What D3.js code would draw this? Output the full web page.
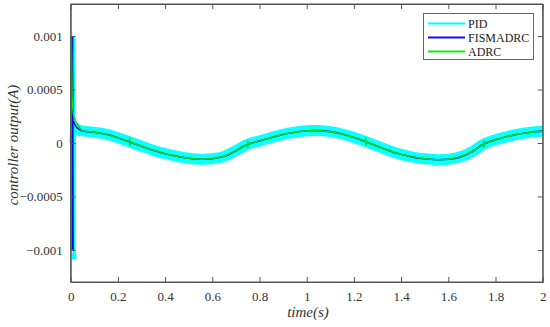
<!DOCTYPE html>
<html><head><meta charset="utf-8">
<script src="https://cdn.jsdelivr.net/npm/d3@7"></script>
<style>body{margin:0;background:#fff}svg{display:block}
svg text{font-family:"Liberation Serif","Times New Roman",Tinos,"DejaVu Serif",serif !important;}
</style>
</head><body>
<svg id="c" width="550" height="327"></svg>
<script>
// tick values/labels
const xTicks = [0,0.2,0.4,0.6,0.8,1,1.2,1.4,1.6,1.8,2];
const xTickLabels = ["0","0.2","0.4","0.6","0.8","1","1.2","1.4","1.6","1.8","2"];
const yTicks = [0.001,0.0005,0,-0.0005,-0.001];
const yTickLabels = ["0.001","0.0005","0","\u22120.0005","\u22120.001"];
const seriesNames = ["PID","FISMADRC","ADRC"];

// common slow response after the start (time s, value x1e-4)
const time = [0.05,0.10,0.15,0.20,0.25,0.30,0.35,0.40,0.45,0.50,0.55,0.60,0.65,0.70,0.75,0.80,0.85,0.90,0.95,1.00,
  1.05,1.10,1.15,1.20,1.25,1.30,1.35,1.40,1.45,1.50,1.55,1.60,1.65,1.70,1.75,1.80,1.85,1.90,1.95,2.00];
const base = [1.13,1.0,0.82,0.5,0.1,-0.3,-0.68,-1.0,-1.24,-1.42,-1.51,-1.47,-1.25,-0.72,-0.12,0.2,0.52,0.8,1.0,1.14,
  1.16,1.06,0.84,0.52,0.12,-0.3,-0.72,-1.06,-1.32,-1.48,-1.56,-1.52,-1.32,-0.82,-0.1,0.3,0.6,0.84,1.0,1.13];

// start transients (time s, value x1e-4)
const pidStartT = [0,0.010,0.012,0.014,0.016,0.018];
const pidStartV = [0,10,-10.6,10,-10.5,1.4];
const pidBandStartT = [0.012,0.02,0.035];
const pidBandStartV = [1.4,1.35,1.2];
const fisStartT = [0,0.004,0.006,0.008,0.010,0.012,0.02,0.035];
const fisStartV = [0,10,-10,10,-10,2.0,1.6,1.3];
const adrcStartT = [0,0.0005,0.0015,0.0025,0.006,0.012,0.02,0.035];
const adrcStartV = [0,10,-10,10,4,2.6,2.1,1.5];
// small ADRC jumps near quarter periods
const adrcJumpT = [0.25,0.75,1.25,1.75];
const adrcJumpV = [0.4,0.35,0.4,0.35];

const W=550,H=327,m={l:70.7,r:7.3,t:4,b:45};
const svg=d3.select("#c");
const x=d3.scaleLinear().domain([0,2]).range([m.l,W-m.r]);
const y=d3.scaleLinear().domain([-0.0013,0.0013]).range([H-m.b,m.t]);
const sc=1e-4;

function mk(ts,vs){return ts.map((t,i)=>[t,vs[i]*sc]);}
const baseData = mk(time,base);
const pidBand = mk(pidBandStartT,pidBandStartV).concat(baseData);
const pidSpike = mk(pidStartT,pidStartV);
const fis = mk(fisStartT,fisStartV).concat(baseData);
let adrcBase=[];
time.forEach((t,i)=>{
  adrcBase.push([t,base[i]*sc]);
  const j=adrcJumpT.findIndex(a=>Math.abs(a-t)<1e-9);
  if(j>=0){adrcBase.push([t+0.0005,(base[i]+adrcJumpV[j])*sc]);adrcBase.push([t+0.001,(base[i]-adrcJumpV[j])*sc]);adrcBase.push([t+0.0015,base[i]*sc]);}
});
const adrc = mk(adrcStartT,adrcStartV).concat(adrcBase);

const line=d3.line().x(d=>x(d[0])).y(d=>y(d[1])).curve(d3.curveLinear);
const smooth=d3.line().x(d=>x(d[0])).y(d=>y(d[1])).curve(d3.curveCatmullRom.alpha(0.5));

const g=svg.append("g");
g.append("path").datum(pidBand).attr("d",smooth).attr("fill","none").attr("stroke","#00ffff").attr("stroke-width",11).attr("opacity",0.95);
g.append("path").datum(pidSpike).attr("d",line).attr("fill","none").attr("stroke","#00ffff").attr("stroke-width",2);
g.append("rect").attr("x",x(0.0115)-2).attr("y",y(-0.00105)-2).attr("width",5).attr("height",6).attr("fill","#00ffff");
g.append("path").datum(fis).attr("d",smooth).attr("fill","none").attr("stroke","#0a0ae8").attr("stroke-width",1.6);
g.append("path").datum(adrc).attr("d",line).attr("fill","none").attr("stroke","#10dd10").attr("stroke-width",1.5);

// axes box
const axCol="#555";
const xb=d3.axisBottom(x).tickValues(xTicks).tickFormat((d,i)=>xTickLabels[i]).tickSizeInner(-5).tickSizeOuter(0).tickPadding(10);
const xt=d3.axisTop(x).tickValues(xTicks).tickFormat("").tickSizeInner(-5).tickSizeOuter(0);
const yl=d3.axisLeft(y).tickValues(yTicks).tickFormat((d,i)=>yTickLabels[i]).tickSizeInner(-5).tickSizeOuter(0).tickPadding(8);
const yr=d3.axisRight(y).tickValues(yTicks).tickFormat("").tickSizeInner(-5).tickSizeOuter(0);
[[xb,`translate(0,${H-m.b})`],[xt,`translate(0,${m.t})`],[yl,`translate(${m.l},0)`],[yr,`translate(${W-m.r},0)`]].forEach(([a,tr])=>{
  const gg=svg.append("g").attr("transform",tr).call(a).attr("font-family",null);
  gg.selectAll("path,line").attr("stroke",axCol);
  gg.selectAll("text").attr("fill","#333").style("font-size","13px");
});
svg.append("rect").attr("x",m.l).attr("y",m.t).attr("width",W-m.l-m.r).attr("height",H-m.t-m.b).attr("fill","none").attr("stroke",axCol).attr("stroke-width",1);

svg.append("text").attr("x",308).attr("y",317).attr("text-anchor","middle").style("font-style","italic").style("font-size","15px").attr("fill","#333").text("time(s)");
svg.append("text").attr("transform","translate(18,145) rotate(-90)").attr("text-anchor","middle").style("font-style","italic").style("font-size","15px").attr("fill","#333").text("controller output(A)");

// legend
const lg=svg.append("g");
lg.append("rect").attr("x",423.5).attr("y",13.5).attr("width",110).attr("height",46).attr("fill","#fff").attr("stroke","#666");
const cols=["#00ffff","#1010ee","#10ee10"];
seriesNames.forEach((n,i)=>{
  const yy=23.5+i*14;
  lg.append("line").attr("x1",428).attr("x2",465).attr("y1",yy).attr("y2",yy).attr("stroke",cols[i]).attr("stroke-width",2);
  lg.append("text").attr("x",468).attr("y",yy+4).style("font-size","12px").attr("fill","#222").text(n);
});
</script>
</body></html>
